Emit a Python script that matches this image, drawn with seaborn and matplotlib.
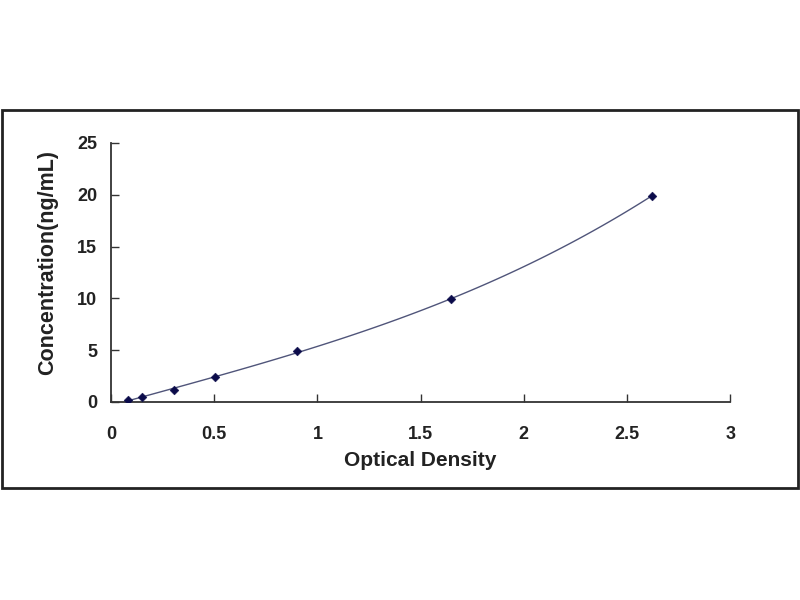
import matplotlib
matplotlib.use('Agg')
import matplotlib.pyplot as plt
import matplotlib.patches as patches
import seaborn as sns
import pandas as pd

# standard curve points
od = [0.083, 0.15, 0.307, 0.505, 0.903, 1.645, 2.62]
conc = [0.2, 0.5, 1.2, 2.4, 4.9, 9.9, 19.9]
x_ticks = [0, 0.5, 1, 1.5, 2, 2.5, 3]
y_ticks = [0, 5, 10, 15, 20, 25]

df = pd.DataFrame({'od': od, 'conc': conc})

sns.set_style('white')
plt.rcParams['font.family'] = ['Liberation Sans', 'DejaVu Sans']

fig = plt.figure(figsize=(8, 6), dpi=100)
ax = fig.add_axes([0.13875, 0.33, 0.774, 0.4317])

# fitted curve and the points
sns.regplot(data=df, x='od', y='conc', order=3, ci=None, scatter=False,
            line_kws={'color': '#50557a', 'linewidth': 1.0}, ax=ax)
sns.scatterplot(data=df, x='od', y='conc', marker='D', s=20,
                color='#0b0b4a', edgecolor='#0b0b4a', ax=ax, zorder=3)

ax.set_xlim(0, 3)
ax.set_ylim(0, 25)
ax.set_xticks(x_ticks)
ax.set_xticklabels([f'{t:g}' for t in x_ticks])
ax.set_yticks(y_ticks)
ax.tick_params(bottom=True, left=True, direction='in', length=6, width=1,
               colors='#333333', labelsize=13)
ax.tick_params(axis='x', pad=17)
ax.tick_params(axis='y', pad=10)
for lab in ax.get_xticklabels() + ax.get_yticklabels():
    lab.set_fontweight('bold')
    lab.set_color('#222222')

for s in ['top', 'right']:
    ax.spines[s].set_visible(False)
for s in ['left', 'bottom']:
    ax.spines[s].set_color('#333333')
    ax.spines[s].set_linewidth(1.3)

ax.set_xlabel('Optical Density', fontsize=15, fontweight='bold', color='#222222')
ax.set_ylabel('Concentration(ng/mL)', fontsize=15.5, fontweight='bold', color='#222222')
ax.xaxis.set_label_coords(0.5, -0.19)
ax.yaxis.set_label_coords(-0.085, 0.54)

# outer frame around the chart
frame = patches.Rectangle((0.003, 0.1867), 0.994, 0.63, transform=fig.transFigure,
                          fill=False, edgecolor='#222222', linewidth=2)
fig.patches.append(frame)

fig.savefig('out.png', dpi=100)
